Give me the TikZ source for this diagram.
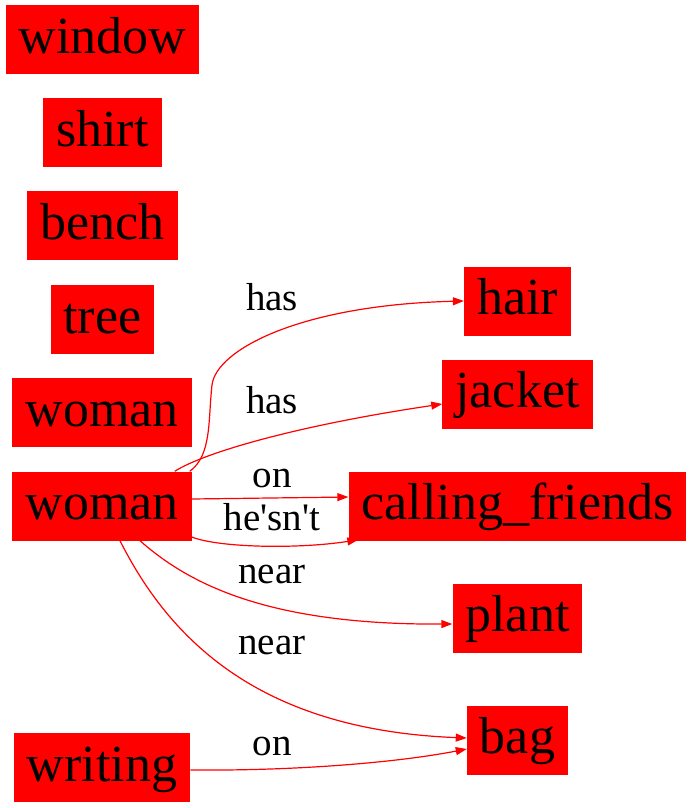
\documentclass[tikz,border=0pt]{standalone}
\usepackage{fontspec}
\setmainfont{Liberation Serif}
\newfontfamily\lblfont{Liberation Serif}
\usetikzlibrary{arrows.meta}
\tikzset{
  obj/.style={fill=red, inner xsep=13pt, inner ysep=1pt, minimum height=69pt,
    text height=35pt, text depth=8pt, font=\fontsize{52}{56}\selectfont},
  rel/.style={-{Triangle[length=11pt,width=8pt]}, red, line width=1.2pt},
  lbl/.style={font=\lblfont\fontsize{39}{42}\selectfont, anchor=base, inner sep=0pt},
}
\begin{document}
\begin{tikzpicture}[x=1pt,y=-1pt]
\useasboundingbox (0,0) rectangle (695,808);
% objects
\node[obj] (window) at (102.5,39.5) {window};
\node[obj] (shirt) at (102.5,132.5) {shirt};
\node[obj] (bench) at (102.5,225.5) {bench};
\node[obj] (tree) at (102.5,319.5) {tree};
\node[obj] (woman) at (102,412.5) {woman};
\node[obj] (woman2) at (102,506) {woman};
\node[obj] (writing) at (102,767.5) {writing};
\node[obj] (hair) at (517.5,301) {hair};
\node[obj] (jacket) at (517.5,394) {jacket};
\node[obj] (calling) at (517.5,506) {calling\_friends};
\node[obj] (plant) at (517.5,618) {plant};
\node[obj] (bag) at (517.5,740) {bag};

% relations
\draw[rel] ([xshift=-2pt]woman2.north east) .. controls (212,455) and (208,420) .. (212,385)
  .. controls (216,350) and (300,305) .. (hair.west);
\node[lbl] (hasA) at (272,310) {has};
\draw[rel] ([xshift=-17pt]woman2.north east) .. controls (205,452) and (300,425) .. ([yshift=-10pt]jacket.west);
\node[lbl] (hasB) at (272,413) {has};
\draw[rel] ([yshift=7pt]woman2.east) -- ([yshift=9pt]calling.west);
\node[lbl] (onA) at (272,487) {on};
\draw[rel] ([yshift=-31pt]woman2.east) .. controls (220,548) and (300,549) .. ([xshift=10pt,yshift=1pt]calling.south west);
\node[lbl] (hesnt) at (272,530) {he'sn't};
\draw[rel] ([xshift=38pt]woman2.south) .. controls (190,585) and (270,625) .. ([yshift=-6pt]plant.west);
\node[lbl] (nearA) at (272,583) {near};
\draw[rel] ([xshift=18pt]woman2.south) .. controls (170,640) and (260,730) .. ([yshift=2pt]bag.west);
\node[lbl] (nearB) at (272,654) {near};
\draw[rel] ([yshift=-2.5pt]writing.east) .. controls (300,771) and (400,762) .. ([yshift=-9pt]bag.west);
\node[lbl] (onB) at (272,755) {on};
\end{tikzpicture}
\end{document}
